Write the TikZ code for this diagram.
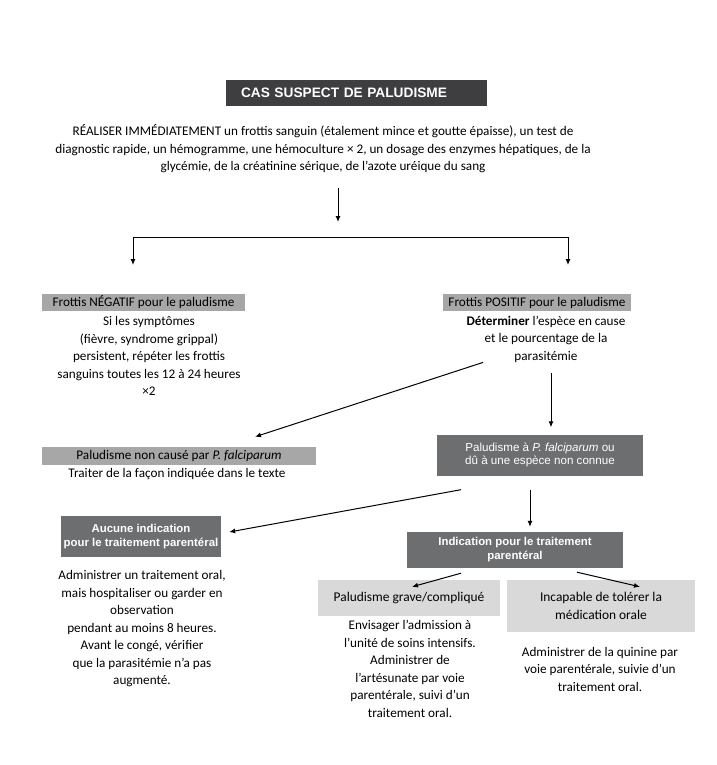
\documentclass[tikz,border=0pt]{standalone}
\usepackage{fontspec}
\setmainfont{Carlito}
\newfontfamily\boxfont{Liberation Sans}
\usetikzlibrary{arrows.meta}

\definecolor{titlegray}{HTML}{3E3D3F}
\definecolor{boxgray}{HTML}{6D6E70}
\definecolor{labelgray}{HTML}{A7A7A7}
\definecolor{palegray}{HTML}{D9D9D9}

\tikzset{
  titlebox/.style={fill=titlegray, text=white, font=\boxfont\bfseries\fontsize{13.7}{15}\selectfont,
    minimum width=261pt, minimum height=26pt, text width=231pt, inner xsep=15pt, align=left},
  darkbox/.style={fill=boxgray, text=white, font=\boxfont\bfseries\fontsize{11.4}{14}\selectfont,
    align=center, inner sep=0pt},
  graylabel/.style={fill=labelgray, inner sep=0pt, minimum height=17pt,
    font=\fontsize{13.2}{17.5}\selectfont},
  palebox/.style={fill=palegray, align=center, inner sep=0pt,
    font=\fontsize{13.4}{18}\selectfont},
  bodytext/.style={align=center, inner sep=0pt, font=\fontsize{13.2}{17.5}\selectfont},
  arr/.style={-{Latex[length=6pt,width=5pt]}, line width=1pt}
}

\begin{document}
\begin{tikzpicture}[x=1pt,y=-1pt]

\useasboundingbox (0,0) rectangle (716,765);

\node[titlebox] (title) at (356.5,93) {CAS SUSPECT DE PALUDISME};

\node[bodytext] (realiser) at (323,149) {RÉALISER IMMÉDIATEMENT un frottis sanguin (étalement mince et goutte épaisse), un test de\\diagnostic rapide, un hémogramme, une hémoculture × 2, un dosage des enzymes hépatiques, de la\\glycémie, de la créatinine sérique, de l’azote uréique du sang};

\coordinate (split) at (338,237);
\coordinate (brL) at (133,237);
\coordinate (brR) at (568,237);

\draw[arr] (split) ++(0,-49) -- ++(0,34);
\draw[line width=1pt] (brL) -- (brR);
\draw[arr] (brL) -- ++(0,28);
\draw[arr] (brR) -- ++(0,28);

% negatif / positif
\node[graylabel, minimum width=203pt] (neg) at (143.5,302.5) {Frottis NÉGATIF pour le paludisme};
\node[bodytext] (negtxt) at (149,356) {Si les symptômes\\(fièvre, syndrome grippal)\\persistent, répéter les frottis\\sanguins toutes les 12 à 24 heures\\×2};

\node[graylabel, minimum width=188pt] (pos) at (537,302.5) {Frottis POSITIF pour le paludisme};
\node[bodytext] (postxt) at (546,339) {\textbf{Déterminer} l’espèce en cause\\et le pourcentage de la\\parasitémie};

\node[graylabel, minimum width=274pt, minimum height=18pt] (noncause) at (179,456) {Paludisme non causé par \textit{P. falciparum}};
\node[bodytext] (noncausetxt) at (177,474) {Traiter de la façon indiquée dans le texte};

\node[darkbox, font=\boxfont\fontsize{11.6}{12.5}\selectfont, minimum width=206pt, minimum height=41pt] (falci) at (540,455) {Paludisme à \textit{P. falciparum} ou\\dû à une espèce non connue};

\draw[arr] ([xshift=-63pt]postxt.south) -- ([xshift=76pt,yshift=10pt]noncause.north);
\draw[arr, shorten <=11pt, shorten >=7pt] ([xshift=5pt]postxt.south) -- ([xshift=5pt]postxt.south |- falci.north);

% traitement
\node[darkbox, minimum width=160pt, minimum height=41pt] (aucune) at (141,536.5) {Aucune indication\\pour le traitement parentéral};
\node[darkbox, minimum width=216pt, minimum height=36pt] (indic) at (515,550) {Indication pour le traitement\\parentéral};

\draw[arr] ([xshift=-79pt,yshift=-14pt]falci.south) -- ([xshift=8pt,yshift=4.5pt]aucune.east);
\draw[arr] ([xshift=-10pt,yshift=-14pt]falci.south) -- ([xshift=15pt,yshift=5pt]indic.north);

\node[bodytext] (aucunetxt) at (142,629) {Administrer un traitement oral,\\mais hospitaliser ou garder en\\observation\\pendant au moins 8 heures.\\Avant le congé, vérifier\\que la parasitémie n’a pas\\augmenté.};

\node[palebox, minimum width=182pt, minimum height=36pt] (grave) at (409,598) {Paludisme grave/compliqué};
\node[palebox, minimum width=188pt, minimum height=52pt] (incap) at (601,606) {Incapable de tolérer la\\médication orale};

\draw[arr] ([xshift=-54pt,yshift=-5pt]indic.south) -- ([xshift=3pt,yshift=-7pt]grave.north);
\draw[arr] ([xshift=62pt,yshift=-4pt]indic.south) -- ([xshift=39pt,yshift=-7pt]incap.north);

\node[bodytext] (gravetxt) at (410,669) {Envisager l’admission à\\l’unité de soins intensifs.\\Administrer de\\l’artésunate par voie\\parentérale, suivi d’un\\traitement oral.};
\node[bodytext] (incaptxt) at (600,669) {Administrer de la quinine par\\voie parentérale, suivie d’un\\traitement oral.};

\end{tikzpicture}
\end{document}
